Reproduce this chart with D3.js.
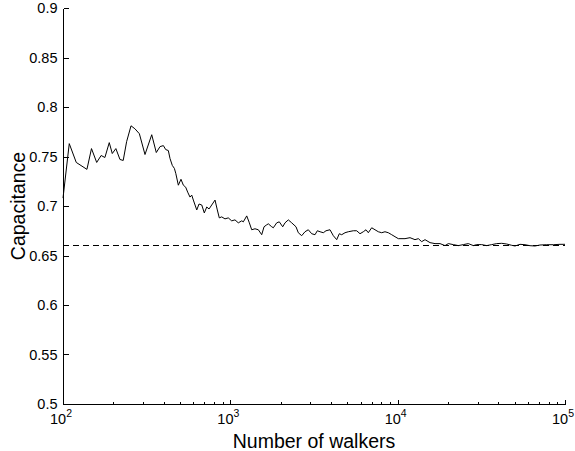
<!DOCTYPE html>
<html>
<head>
<meta charset="utf-8">
<script src="https://cdn.jsdelivr.net/npm/d3@7"></script>
<style>
  html, body { margin: 0; padding: 0; background: #fff; }
  svg text { font-family: "Liberation Sans", Arial, Helvetica, sans-serif; fill: #000; }
</style>
</head>
<body>
<svg id="chart" width="575" height="451"></svg>
<script>
// ---- data ----
const walkers = [100,109,120,139,148,159,169,178,189,197,207,219,229,240,255,269,286,309,339,361,380,398,411,426,436,450,463,472,489,507,524,541,556,574,588,601,630,650,675,699,723,746,774,810,836,859,888,929,972,1019,1066,1116,1170,1196,1253,1299,1342,1404,1470,1540,1590,1650,1687,1768,1807,1893,1962,2056,2122,2221,2327,2469,2548,2670,2794,2924,3064,3207,3310,3436,3595,3730,3941,4125,4322,4479,4630,4845,5070,5432,5691,5956,6233,6469,6676,6995,7321,7661,8027,8400,8792,9213,9640,10090,11060,11850,12690,13290,13920,14570,15610,16720,17910,19190,20080,21510,23050,24690,26440,28330,29680,31790,34050,36480,39080,41860,44830,48030,50270,53840,57680,61800,66200,70890,77770,85130,93360,100000];
const capacitance = [0.708,0.763,0.744,0.737,0.758,0.744,0.751,0.749,0.764,0.753,0.758,0.747,0.746,0.765,0.781,0.778,0.773,0.752,0.772,0.754,0.760,0.761,0.757,0.756,0.748,0.741,0.738,0.733,0.721,0.727,0.721,0.719,0.714,0.709,0.711,0.706,0.696,0.702,0.701,0.693,0.699,0.697,0.701,0.706,0.696,0.688,0.689,0.687,0.688,0.685,0.686,0.683,0.685,0.684,0.690,0.683,0.676,0.677,0.676,0.671,0.679,0.681,0.682,0.679,0.678,0.683,0.684,0.679,0.683,0.686,0.683,0.679,0.673,0.670,0.674,0.676,0.672,0.671,0.675,0.674,0.673,0.675,0.676,0.670,0.666,0.672,0.671,0.673,0.674,0.675,0.675,0.672,0.674,0.676,0.673,0.678,0.676,0.674,0.673,0.674,0.673,0.671,0.669,0.667,0.667,0.668,0.666,0.667,0.664,0.666,0.663,0.662,0.662,0.660,0.662,0.661,0.660,0.661,0.662,0.660,0.661,0.661,0.660,0.661,0.662,0.6623,0.6616,0.6603,0.6596,0.6613,0.6609,0.6599,0.6596,0.6606,0.6609,0.6609,0.6613,0.6613];
const referenceValue = 0.661;
const xDomain = [100, 100000];
const yDomain = [0.5, 0.9];
const xMajorTicks = [100, 1000, 10000, 100000];
const xTickExponents = ["2", "3", "4", "5"];
const yTicks = [0.5, 0.55, 0.6, 0.65, 0.7, 0.75, 0.8, 0.85, 0.9];
const yTickLabels = ["0.5", "0.55", "0.6", "0.65", "0.7", "0.75", "0.8", "0.85", "0.9"];
const xLabel = "Number of walkers";
const yLabel = "Capacitance";

// ---- layout ----
const margin = { left: 63, right: 10, top: 8, bottom: 47 };
const W = 575, H = 451;
const svg = d3.select("#chart");

const x = d3.scaleLog().domain(xDomain).range([margin.left, W - margin.right]);
const y = d3.scaleLinear().domain(yDomain).range([H - margin.bottom, margin.top]);

// minor ticks
const minorTicks = [];
for (let e = 2; e < 5; e++) for (let m = 2; m <= 9; m++) minorTicks.push(m * Math.pow(10, e));

const g = svg.append("g");

// reference dashed line
g.append("line")
  .attr("x1", x(xDomain[0])).attr("x2", x(xDomain[1]))
  .attr("y1", Math.round(y(referenceValue)) + 0.5).attr("y2", Math.round(y(referenceValue)) + 0.5)
  .attr("stroke", "#000").attr("stroke-width", 1).attr("stroke-dasharray", "6,4");

// data line
const line = d3.line().x((d, i) => x(walkers[i])).y(d => y(d));
g.append("path").datum(capacitance)
  .attr("d", line).attr("fill", "none").attr("stroke", "#000").attr("stroke-width", 1)
  .attr("stroke-linejoin", "round");

// axes
const y0 = Math.round(y(yDomain[0])) + 0.5;
const x0 = Math.round(x(xDomain[0])) + 0.5;

const axes = svg.append("g").attr("shape-rendering", "crispEdges");
axes.append("line").attr("x1", x0).attr("x2", Math.round(x(xDomain[1])) + 0.5)
  .attr("y1", y0).attr("y2", y0).attr("stroke", "#000");
axes.append("line").attr("x1", x0).attr("x2", x0)
  .attr("y1", y0).attr("y2", Math.round(y(yDomain[1])) + 0.5).attr("stroke", "#000");

// x major ticks
axes.selectAll(".xmaj").data(xMajorTicks).enter().append("line")
  .attr("x1", d => Math.round(x(d)) + 0.5).attr("x2", d => Math.round(x(d)) + 0.5)
  .attr("y1", y0).attr("y2", y0 - 5).attr("stroke", "#000");
axes.selectAll(".xmin").data(minorTicks).enter().append("line")
  .attr("x1", d => Math.round(x(d)) + 0.5).attr("x2", d => Math.round(x(d)) + 0.5)
  .attr("y1", y0).attr("y2", y0 - 3).attr("stroke", "#000");
// y ticks
axes.selectAll(".ytk").data(yTicks).enter().append("line")
  .attr("x1", x0).attr("x2", x0 + 5)
  .attr("y1", d => Math.round(y(d)) + 0.5).attr("y2", d => Math.round(y(d)) + 0.5).attr("stroke", "#000");

// y tick labels
svg.selectAll(".ylab").data(yTicks).enter().append("text")
  .attr("x", x0 - 6).attr("y", d => y(d) + 5)
  .attr("text-anchor", "end").attr("font-size", 14.5)
  .text((d, i) => yTickLabels[i]);

// x tick labels: 10^n
xMajorTicks.forEach((d, i) => {
  const t = svg.append("text")
    .attr("x", x(d) - 2).attr("y", 424)
    .attr("text-anchor", "middle").attr("font-size", 14.5);
  t.append("tspan").text("10");
  t.append("tspan").attr("dy", -7).attr("font-size", 10.5).text(xTickExponents[i]);
});

// axis labels
svg.append("text").attr("x", (x(xDomain[0]) + x(xDomain[1])) / 2).attr("y", 448)
  .attr("text-anchor", "middle").attr("font-size", 19.5).text(xLabel);
svg.append("text").attr("transform", `translate(25,${(y(yDomain[0]) + y(yDomain[1])) / 2}) rotate(-90)`)
  .attr("text-anchor", "middle").attr("font-size", 19.5).text(yLabel);
</script>
</body>
</html>
